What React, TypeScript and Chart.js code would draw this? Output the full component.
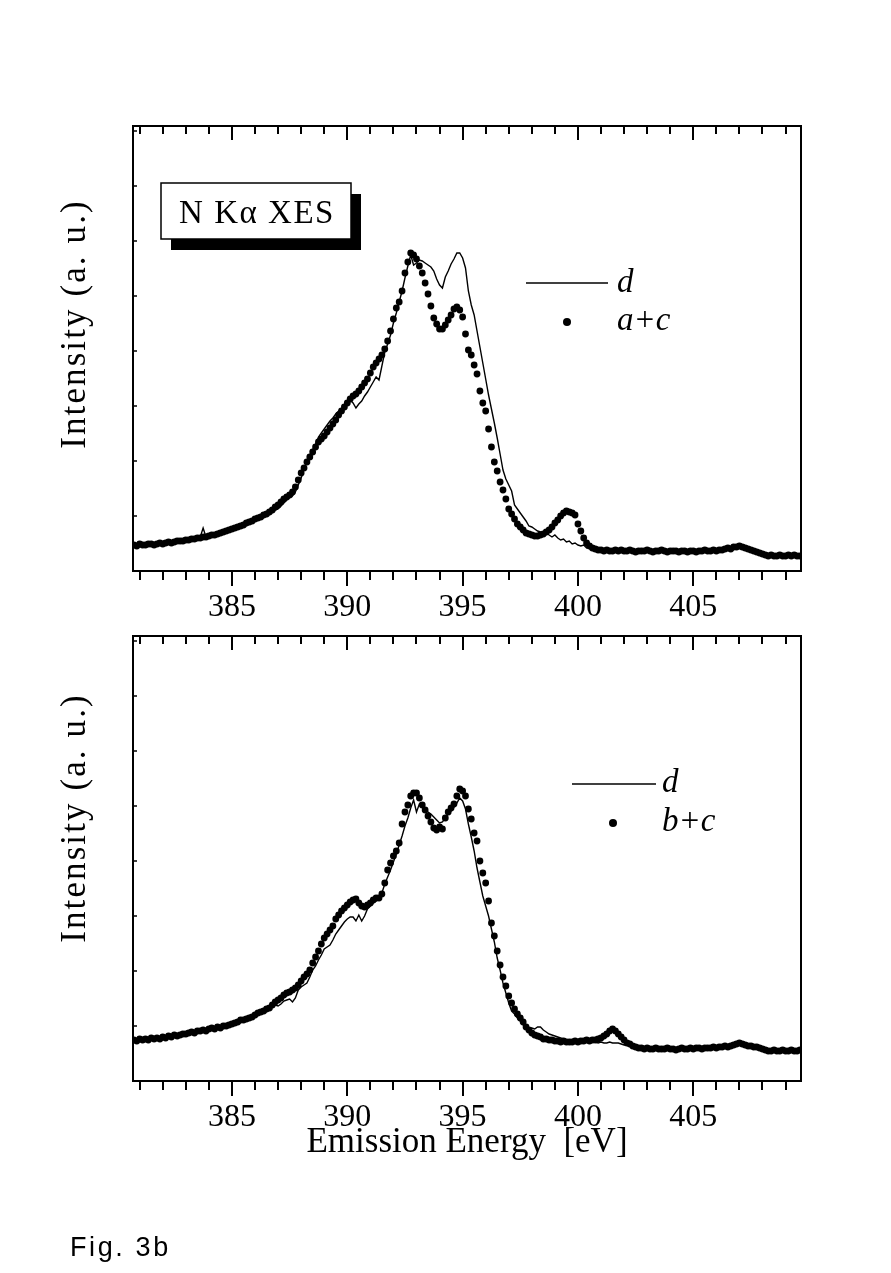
import React, { useEffect, useRef } from "react";
import { Chart, registerables } from "chart.js";

Chart.register(...registerables);

// ---------------- data ----------------
// Spectra sampled on a uniform energy grid (eV)
const ENERGY_START = 380.75;
const ENERGY_STEP = 0.125;
const X_MIN = 380.71;
const X_MAX = 409.67;
const MAJOR_TICKS = [385, 390, 395, 400, 405];
const MINOR_TICKS = [381, 382, 383, 384, 385, 386, 387, 388, 389, 390, 391, 392, 393, 394, 395, 396, 397, 398, 399, 400, 401, 402, 403, 404, 405, 406, 407, 408, 409];
const Y_MIN = 0;
const Y_MAX = 445;
const Y_TICKS = [55, 110, 165, 220, 275, 330, 385, 440];

const TOP_D = [
  26, 27, 25, 26, 27, 26, 27, 28,
  27, 28, 29, 28, 29, 30, 29, 30,
  31, 30, 32, 31, 33, 32, 33, 34,
  43, 34, 35, 36, 37, 36, 38, 39,
  40, 42, 41, 43, 45, 44, 47, 48,
  50, 49, 51, 53, 55, 54, 56, 58,
  59, 61, 62, 65, 68, 71, 74, 75,
  79, 86, 93, 102, 110, 116, 121, 127,
  134, 138, 142, 146, 150, 153, 157, 160,
  162, 165, 168, 171, 168, 163, 167, 170,
  175, 179, 184, 189, 194, 191, 205, 219,
  227, 236, 248, 258, 269, 280, 293, 305,
  316, 306, 308, 311, 310, 308, 306, 304,
  300, 292, 286, 283, 294, 300, 307, 312,
  318, 318, 313, 303, 280, 266, 256, 240,
  224, 208, 192, 176, 162, 148, 133, 117,
  101, 92, 86, 80, 66, 62, 58, 54,
  50, 45, 44, 42, 40, 39, 37, 38,
  36, 34, 36, 33, 31, 32, 29, 30,
  27, 28, 26, 25, 26, 23, 24, 22,
  22, 21, 21, 22, 20, 21, 20, 21,
  20, 20, 21, 20, 20, 21, 20, 19,
  21, 20, 20, 21, 20, 20, 19, 20,
  20, 20, 19, 20, 21, 20, 20, 19,
  20, 19, 20, 20, 19, 20, 20, 21,
  20, 21, 21, 20, 21, 22, 22, 23,
  23, 25, 24, 24, 22, 21, 20, 20,
  18, 17, 17, 16, 15, 15, 16, 15,
  15, 16, 15, 15, 16, 15, 15, 16,
];

const TOP_AC = [
  26, 25, 27, 26, 26, 27, 27, 26,
  27, 28, 27, 28, 29, 28, 29, 30,
  30, 30, 31, 31, 32, 32, 33, 33,
  34, 34, 35, 36, 36, 37, 38, 39,
  40, 41, 42, 43, 44, 45, 46, 48,
  49, 50, 52, 53, 54, 56, 57, 59,
  61, 64, 66, 69, 72, 74, 76, 79,
  84, 91, 98, 103, 109, 114, 119, 124,
  129, 132, 135, 139, 143, 147, 151, 156,
  160, 164, 168, 172, 175, 177, 180, 184,
  188, 192, 198, 204, 208, 212, 216, 222,
  230, 240, 252, 263, 269, 280, 298, 309,
  318, 316, 312, 305, 298, 288, 277, 265,
  253, 247, 242, 242, 246, 251, 256, 262,
  264, 261, 254, 237, 221, 216, 206, 197,
  180, 168, 160, 142, 124, 109, 100, 89,
  81, 72, 62, 57, 52, 47, 44, 41,
  38, 37, 36, 35, 35, 36, 37, 39,
  41, 44, 48, 51, 55, 58, 60, 59,
  58, 56, 47, 40, 33, 28, 25, 23,
  22, 21, 21, 20, 21, 20, 20, 21,
  20, 21, 20, 20, 21, 20, 19, 20,
  20, 20, 21, 20, 19, 20, 20, 21,
  20, 19, 20, 20, 20, 19, 20, 20,
  19, 20, 20, 19, 20, 20, 21, 20,
  20, 21, 20, 21, 21, 22, 23, 22,
  24, 24, 25, 24, 23, 22, 21, 20,
  19, 18, 17, 16, 15, 16, 15, 15,
  16, 15, 15, 16, 15, 16, 15, 15,
];

const BOTTOM_D = [
  41, 42, 41, 40, 42, 43, 41, 42,
  42, 44, 43, 44, 44, 45, 45, 46,
  47, 46, 48, 47, 49, 50, 49, 51,
  50, 52, 53, 52, 54, 53, 55, 56,
  56, 57, 56, 58, 60, 60, 61, 63,
  63, 65, 65, 67, 68, 70, 71, 73,
  74, 76, 75, 77, 80, 81, 82, 79,
  83, 91, 94, 96, 98, 104, 111, 115,
  121, 126, 132, 134, 136, 141, 147, 151,
  155, 159, 162, 164, 164, 160, 166, 160,
  165, 172, 175, 178, 180, 182, 188, 197,
  204, 211, 219, 227, 236, 245, 255, 263,
  273, 281, 269, 277, 274, 271, 269, 267,
  264, 261, 258, 259, 263, 267, 270, 274,
  278, 283, 280, 272, 257, 244, 230, 213,
  199, 185, 175, 165, 152, 139, 123, 111,
  98, 88, 78, 70, 67, 63, 60, 56,
  55, 53, 53, 52, 54, 54, 51, 49,
  47, 46, 45, 44, 43, 42, 41, 40,
  39, 40, 38, 39, 39, 40, 38, 39,
  39, 38, 39, 38, 38, 39, 38, 38,
  38, 37, 36, 36, 35, 34, 34, 33,
  33, 33, 32, 33, 32, 32, 33, 32,
  32, 32, 33, 32, 32, 31, 32, 33,
  33, 32, 33, 32, 33, 33, 32, 34,
  33, 34, 34, 33, 35, 34, 35, 35,
  36, 38, 37, 36, 36, 35, 34, 34,
  33, 33, 31, 31, 30, 31, 30, 30,
  31, 30, 30, 31, 30, 30, 31, 30,
];

const BOTTOM_BC = [
  41, 40, 42, 41, 42, 41, 43, 42,
  43, 42, 44, 43, 45, 44, 46, 45,
  46, 47, 47, 48, 49, 48, 50, 50,
  51, 50, 52, 53, 52, 54, 53, 55,
  55, 56, 57, 58, 59, 61, 61, 62,
  63, 64, 66, 68, 69, 70, 72, 73,
  76, 79, 81, 83, 86, 88, 89, 91,
  93, 96, 100, 104, 107, 111, 118, 124,
  130, 137, 143, 147, 151, 155, 162, 166,
  170, 173, 176, 179, 181, 182, 178, 175,
  174, 176, 178, 181, 183, 183, 187, 198,
  211, 218, 225, 230, 238, 257, 269, 276,
  285, 288, 288, 283, 276, 271, 265, 259,
  253, 251, 254, 252, 263, 269, 273, 277,
  285, 292, 290, 285, 272, 262, 248, 240,
  220, 208, 198, 180, 158, 145, 130, 116,
  104, 95, 85, 78, 72, 67, 63, 59,
  54, 51, 48, 46, 45, 44, 42, 42,
  41, 41, 40, 40, 39, 40, 39, 39,
  39, 40, 39, 40, 40, 41, 40, 41,
  41, 42, 43, 45, 47, 50, 52, 50,
  47, 44, 41, 38, 37, 35, 34, 33,
  33, 32, 33, 32, 32, 33, 32, 32,
  32, 33, 32, 32, 31, 32, 33, 32,
  32, 33, 32, 33, 33, 32, 33, 33,
  33, 34, 33, 34, 34, 35, 34, 35,
  36, 37, 38, 37, 36, 35, 35, 34,
  34, 33, 32, 31, 30, 30, 31, 30,
  30, 31, 30, 30, 31, 30, 30, 31,
];

const LABEL_D = "d";
const LABEL_TOP_DOTS = "a+c";
const LABEL_BOTTOM_DOTS = "b+c";
const BOX_TEXT = "N K\u03b1 XES";
const Y_TITLE = "Intensity (a. u.)";
const X_TITLE = "Emission Energy  [eV]";
const FIG_LABEL = "Fig. 3b";

// ---------------- helpers ----------------
const SERIF = '"Liberation Serif", "Times New Roman", serif';

function toPoints(values: number[]) {
  return values.map((v, i) => ({ x: ENERGY_START + i * ENERGY_STEP, y: v }));
}

const framePlugin = {
  id: "frameTicks",
  afterDatasetsDraw(chart: any) {
    const { ctx, chartArea, scales } = chart;
    const { left, right, top, bottom } = chartArea;
    const x = scales.x;
    const y = scales.y;
    ctx.save();
    ctx.strokeStyle = "#000";
    ctx.lineWidth = 2;
    ctx.strokeRect(left, top, right - left, bottom - top);
    ctx.beginPath();
    for (const v of MINOR_TICKS) {
      const px = Math.round(x.getPixelForValue(v));
      const major = MAJOR_TICKS.includes(v);
      ctx.moveTo(px, bottom);
      ctx.lineTo(px, bottom + (major ? 15 : 9));
      ctx.moveTo(px, top);
      ctx.lineTo(px, top + (major ? 14 : 8));
    }
    ctx.stroke();
    ctx.lineWidth = 1.5;
    ctx.beginPath();
    for (const v of Y_TICKS) {
      const py = Math.round(y.getPixelForValue(v));
      ctx.moveTo(left, py);
      ctx.lineTo(left + 4, py);
    }
    ctx.stroke();
    ctx.restore();
  },
};

const legendPlugin = {
  id: "panelLegend",
  afterDraw(chart: any, _args: any, opts: any) {
    if (!opts || !opts.items) return;
    const { ctx, chartArea } = chart;
    const { left, top } = chartArea;
    ctx.save();
    ctx.fillStyle = "#000";
    ctx.strokeStyle = "#000";
    ctx.font = `italic 33px ${SERIF}`;
    ctx.textAlign = "left";
    ctx.textBaseline = "alphabetic";
    chart.data.datasets.forEach((ds: any, i: number) => {
      const it = opts.items[i];
      if (!it) return;
      if (ds.showLine === false) {
        ctx.beginPath();
        ctx.arc(left + it.cx, top + it.cy, 4, 0, Math.PI * 2);
        ctx.fill();
      } else {
        ctx.lineWidth = 1.6;
        ctx.beginPath();
        ctx.moveTo(left + it.x0, top + it.y);
        ctx.lineTo(left + it.x1, top + it.y);
        ctx.stroke();
      }
      ctx.fillText(ds.label, left + it.tx, top + it.ty);
    });
    ctx.restore();
  },
};

const boxPlugin = {
  id: "titleBox",
  afterDraw(chart: any, _args: any, opts: any) {
    if (!opts || !opts.text) return;
    const { ctx, chartArea } = chart;
    const x = chartArea.left + opts.x;
    const y = chartArea.top + opts.y;
    ctx.save();
    ctx.fillStyle = "#000";
    ctx.fillRect(x + 10, y + 11, opts.w, opts.h);
    ctx.fillStyle = "#fff";
    ctx.fillRect(x, y, opts.w, opts.h);
    ctx.strokeStyle = "#000";
    ctx.lineWidth = 1.5;
    ctx.strokeRect(x, y, opts.w, opts.h);
    ctx.fillStyle = "#000";
    ctx.font = `33px ${SERIF}`;
    (ctx as any).letterSpacing = "1.5px";
    ctx.textAlign = "center";
    ctx.textBaseline = "alphabetic";
    ctx.fillText(opts.text, x + opts.w / 2 + 1, chartArea.top + opts.baseline);
    ctx.restore();
  },
};

const yTitlePlugin = {
  id: "yTitle",
  afterDraw(chart: any, _args: any, opts: any) {
    if (!opts || !opts.text) return;
    const { ctx, chartArea } = chart;
    ctx.save();
    ctx.translate(opts.x, chartArea.top + opts.centerY);
    ctx.rotate(-Math.PI / 2);
    ctx.font = `35px ${SERIF}`;
    (ctx as any).letterSpacing = "2.1px";
    ctx.textAlign = "center";
    ctx.textBaseline = "alphabetic";
    ctx.fillStyle = "#000";
    ctx.fillText(opts.text, 0, 0);
    ctx.restore();
  },
};

type PanelProps = {
  top: number;
  height: number;
  padTop: number;
  padBottom: number;
  xAxisHeight: number;
  lineValues: number[];
  dotValues: number[];
  dotLabel: string;
  legendItems: any[];
  box: any;
  yTitleCenter: number;
  showXTitle: boolean;
};

function Panel(p: PanelProps) {
  const ref = useRef<HTMLCanvasElement>(null);
  useEffect(() => {
    const chart = new Chart(ref.current as HTMLCanvasElement, {
      type: "line",
      data: {
        datasets: [
          {
            label: LABEL_D,
            data: toPoints(p.lineValues),
            borderColor: "#000",
            borderWidth: 1.4,
            pointRadius: 0,
            tension: 0,
            fill: false,
          },
          {
            label: p.dotLabel,
            data: toPoints(p.dotValues),
            showLine: false,
            borderColor: "#000",
            backgroundColor: "#000",
            pointRadius: 3.4,
            pointBorderWidth: 0,
            pointBackgroundColor: "#000",
            pointHoverRadius: 3.4,
          },
        ],
      },
      options: {
        animation: false,
        responsive: false,
        events: [],
        layout: { padding: { left: 0, right: 90, top: p.padTop, bottom: p.padBottom } },
        plugins: {
          legend: { display: false },
          tooltip: { enabled: false },
          panelLegend: { items: p.legendItems },
          titleBox: p.box,
          yTitle: { text: Y_TITLE, x: 85, centerY: p.yTitleCenter },
        } as any,
        scales: {
          x: {
            type: "linear",
            min: X_MIN,
            max: X_MAX,
            position: "bottom",
            afterBuildTicks: (s: any) => {
              s.ticks = MAJOR_TICKS.map((v) => ({ value: v }));
            },
            afterFit: (s: any) => {
              s.height = p.xAxisHeight;
            },
            grid: { display: false, drawTicks: false },
            border: { display: false },
            ticks: {
              color: "#000",
              font: { family: SERIF, size: 32 },
              padding: 17,
              maxRotation: 0,
              autoSkip: false,
              callback: (v: any) => String(v),
            },
            title: {
              display: p.showXTitle,
              text: X_TITLE,
              color: "#000",
              font: { family: SERIF, size: 35 },
              padding: { top: 0, bottom: 0 },
            },
          },
          y: {
            type: "linear",
            min: Y_MIN,
            max: Y_MAX,
            position: "left",
            afterFit: (s: any) => {
              s.width = 133;
            },
            grid: { display: false, drawTicks: false },
            border: { display: false },
            ticks: { display: false },
            title: { display: false },
          },
        },
      } as any,
      plugins: [framePlugin, legendPlugin, boxPlugin, yTitlePlugin],
    });
    return () => chart.destroy();
  }, []);
  return (
    <canvas
      ref={ref}
      width={891}
      height={p.height}
      style={{ position: "absolute", left: 0, top: p.top, width: 891, height: p.height }}
    />
  );
}

export default function App() {
  return (
    <div
      style={{
        position: "absolute",
        left: 0,
        top: 0,
        width: 891,
        height: 1273,
        background: "#fff",
        overflow: "hidden",
      }}
    >
      <Panel
        top={0}
        height={630}
        padTop={126}
        padBottom={4}
        xAxisHeight={55}
        lineValues={TOP_D}
        dotValues={TOP_AC}
        dotLabel={LABEL_TOP_DOTS}
        legendItems={[
          { x0: 393, x1: 475, y: 157, tx: 484, ty: 166 },
          { cx: 434, cy: 196, tx: 484, ty: 204 },
        ]}
        box={{ text: BOX_TEXT, x: 28, y: 57, w: 190, h: 56, baseline: 97 }}
        yTitleCenter={198}
        showXTitle={false}
      />
      <Panel
        top={630}
        height={643}
        padTop={6}
        padBottom={109}
        xAxisHeight={83}
        lineValues={BOTTOM_D}
        dotValues={BOTTOM_BC}
        dotLabel={LABEL_BOTTOM_DOTS}
        legendItems={[
          { x0: 439, x1: 523, y: 148, tx: 529, ty: 156 },
          { cx: 480, cy: 187, tx: 529, ty: 195 },
        ]}
        box={false}
        yTitleCenter={182}
        showXTitle={true}
      />
      <div
        style={{
          position: "absolute",
          left: 70,
          top: 1234,
          font: '27px "Liberation Sans", Arial, sans-serif',
          letterSpacing: "2.6px",
          lineHeight: "27px",
          color: "#000",
          whiteSpace: "nowrap",
        }}
      >
        {FIG_LABEL}
      </div>
    </div>
  );
}
